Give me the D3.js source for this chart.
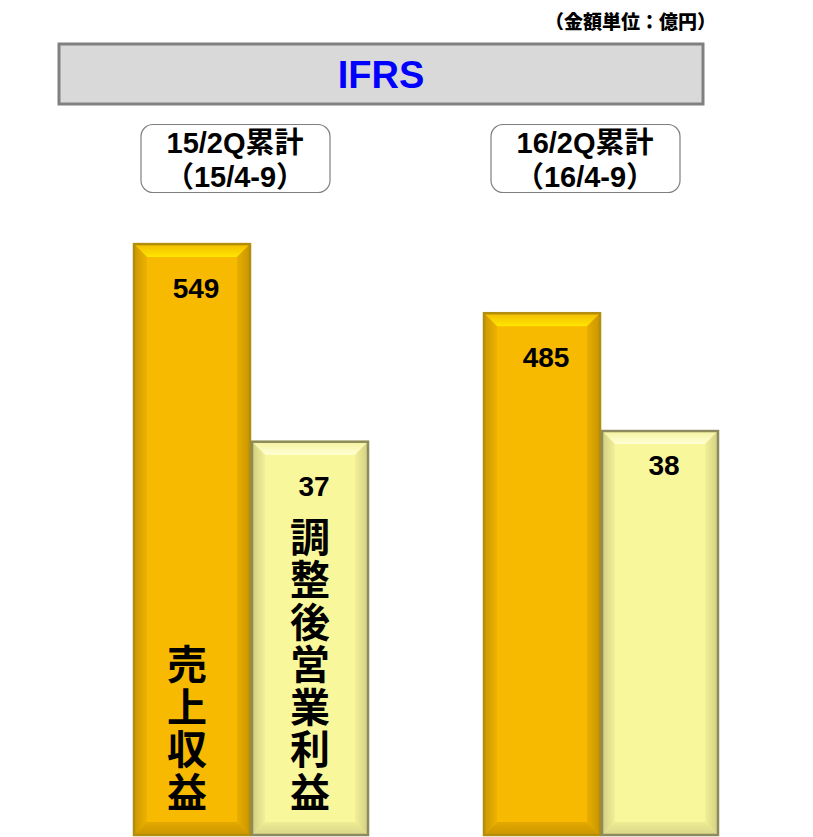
<!DOCTYPE html>
<html>
<head>
<meta charset="utf-8">
<script src="https://cdn.jsdelivr.net/npm/d3@7"></script>
<style>
  body { margin: 0; background: #fff; }
  svg { display: block; }
</style>
</head>
<body>
<div id="chart"></div>
<script>
// データ
const periods = ['15/2Q累計', '16/2Q累計']
const periodRanges = ['（15/4-9）', '（16/4-9）']
const series = ['売上収益', '調整後営業利益']
const revenue = [549, 485]
const adjOpProfit = [37, 38]
const unitLabel = '（金額単位：億円）'
const headerLabel = 'IFRS'

const width = 813, height = 837
const baseY = 836

const svg = d3.select('#chart')
  .append('svg')
  .attr('width', width)
  .attr('height', height)

const defs = svg.append('defs')

// 面ごとのグラデーション
const palette = {
  rev: { base: '#F7BA00', border: '#B38D0C', top: ['#F2B800', '#FFE600'], left: ['#C99600', '#EDB200'], right: ['#E8AE00', '#C69300'], bottom: ['#E3A900', '#C99400'] },
  op:  { base: '#F9F79C', border: '#8D8A5E', top: ['#F4F29A', '#FFFFD6'], left: ['#CFCB80', '#F2F098'], right: ['#F2F096', '#CFCC82'], bottom: ['#EFEC94', '#D6D388'] }
}
function grad(id, c, x1, y1, x2, y2) {
  const g = defs.append('linearGradient').attr('id', id)
    .attr('x1', x1).attr('y1', y1).attr('x2', x2).attr('y2', y2)
  g.append('stop').attr('offset', '0%').attr('stop-color', c[0])
  g.append('stop').attr('offset', '100%').attr('stop-color', c[1])
}
Object.keys(palette).forEach(k => {
  const p = palette[k]
  grad(k + '-top', p.top, 0, 0, 0, 1)
  grad(k + '-left', p.left, 0, 0, 1, 0)
  grad(k + '-right', p.right, 0, 0, 1, 0)
  grad(k + '-bottom', p.bottom, 0, 0, 0, 1)
})

// スケール
const x0 = d3.scaleBand().domain(periods).range([76, 776])
const x1 = d3.scaleBand().domain(series).range([57, 293])
const yRev = d3.scaleLinear().domain([0, 600]).range([baseY, 188])
const yOp = d3.scaleLinear().domain([0, 60]).range([baseY, 195])

// 単位
svg.append('text')
  .attr('x', 716).attr('y', 29)
  .attr('text-anchor', 'end')
  .style('font-family', '"Noto Sans CJK JP", sans-serif')
  .style('font-weight', 900)
  .style('font-size', '19px')
  .text(unitLabel)

// IFRS ヘッダー
svg.append('rect')
  .attr('x', 59).attr('y', 44).attr('width', 644).attr('height', 60)
  .attr('fill', '#D9D9D9').attr('stroke', '#808080').attr('stroke-width', 3)
svg.append('text')
  .attr('x', 381).attr('y', 88)
  .attr('text-anchor', 'middle')
  .attr('fill', '#0000FF')
  .style('font-family', 'Liberation Sans, Arial, sans-serif')
  .style('font-weight', 700)
  .style('font-size', '38px')
  .text(headerLabel)

// 期間ボックス
const pg = svg.selectAll('.period')
  .data(periods)
  .join('g')
  .attr('class', 'period')
  .attr('transform', d => `translate(${x0(d) + x0.bandwidth() / 2 - 16},0)`)
pg.append('rect')
  .attr('x', -94).attr('y', 124.5).attr('width', 189).attr('height', 68).attr('rx', 12)
  .attr('fill', '#fff').attr('stroke', '#7F7F7F').attr('stroke-width', 1.2)
pg.append('text')
  .attr('y', 153).attr('text-anchor', 'middle')
  .style('font-family', 'Liberation Sans, Arial, "Noto Sans CJK JP", sans-serif')
  .style('font-weight', 700).style('font-size', '29px')
  .text(d => d)
pg.append('text')
  .attr('y', 187).attr('text-anchor', 'middle')
  .style('font-family', 'Liberation Sans, Arial, "Noto Sans CJK JP", sans-serif')
  .style('font-weight', 700).style('font-size', '29px')
  .text((d, i) => periodRanges[i])

// 棒データ
const bars = []
periods.forEach((p, i) => {
  bars.push({ period: p, i, key: 'rev', name: series[0], value: revenue[i], x: x0(p) + x1(series[0]), y: yRev(revenue[i]) })
  bars.push({ period: p, i, key: 'op', name: series[1], value: adjOpProfit[i], x: x0(p) + x1(series[1]), y: yOp(adjOpProfit[i]) })
})

const bw = x1.bandwidth(), bev = 14
const bg = svg.selectAll('.bar')
  .data(bars)
  .join('g')
  .attr('class', 'bar')

bg.each(function (d) {
  const g = d3.select(this)
  const x = d.x, y = d.y, w = bw, h = baseY - d.y, b = bev
  const p = palette[d.key]
  g.append('rect').attr('x', x).attr('y', y).attr('width', w).attr('height', h).attr('fill', p.base)
  const poly = (pts, fill) => g.append('polygon').attr('points', pts.map(q => q.join(',')).join(' ')).attr('fill', fill)
  poly([[x, y], [x + w, y], [x + w - b, y + b], [x + b, y + b]], `url(#${d.key}-top)`)
  poly([[x, y], [x + b, y + b], [x + b, y + h - b], [x, y + h]], `url(#${d.key}-left)`)
  poly([[x + w, y], [x + w, y + h], [x + w - b, y + h - b], [x + w - b, y + b]], `url(#${d.key}-right)`)
  poly([[x, y + h], [x + b, y + h - b], [x + w - b, y + h - b], [x + w, y + h]], `url(#${d.key}-bottom)`)
  g.append('rect').attr('x', x + 1).attr('y', y + 1).attr('width', w - 2).attr('height', h - 2)
    .attr('fill', 'none').attr('stroke', p.border).attr('stroke-width', 2.5)
})

// 数値ラベル
bg.append('text')
  .attr('x', d => d.x + bw / 2 + 4)
  .attr('y', d => d.y + (d.key === 'op' && d.i === 1 ? 45 : 55))
  .attr('text-anchor', 'middle')
  .style('font-family', 'Liberation Sans, Arial, sans-serif')
  .style('font-weight', 700)
  .style('font-size', '28px')
  .text(d => d.value)

// 縦書きの項目名（最初の期間のみ）
bg.filter(d => d.i === 0)
  .append('text')
  .attr('x', d => d.x + bw / 2 + (d.key === 'rev' ? -5 : 0))
  .attr('y', 814)
  .attr('text-anchor', 'end')
  .style('writing-mode', 'vertical-rl')
  .style('font-family', '"Noto Sans CJK JP", sans-serif')
  .style('font-weight', 700)
  .style('font-size', '40px')
  .style('letter-spacing', '2.5px')
  .text(d => d.name)
</script>
</body>
</html>
